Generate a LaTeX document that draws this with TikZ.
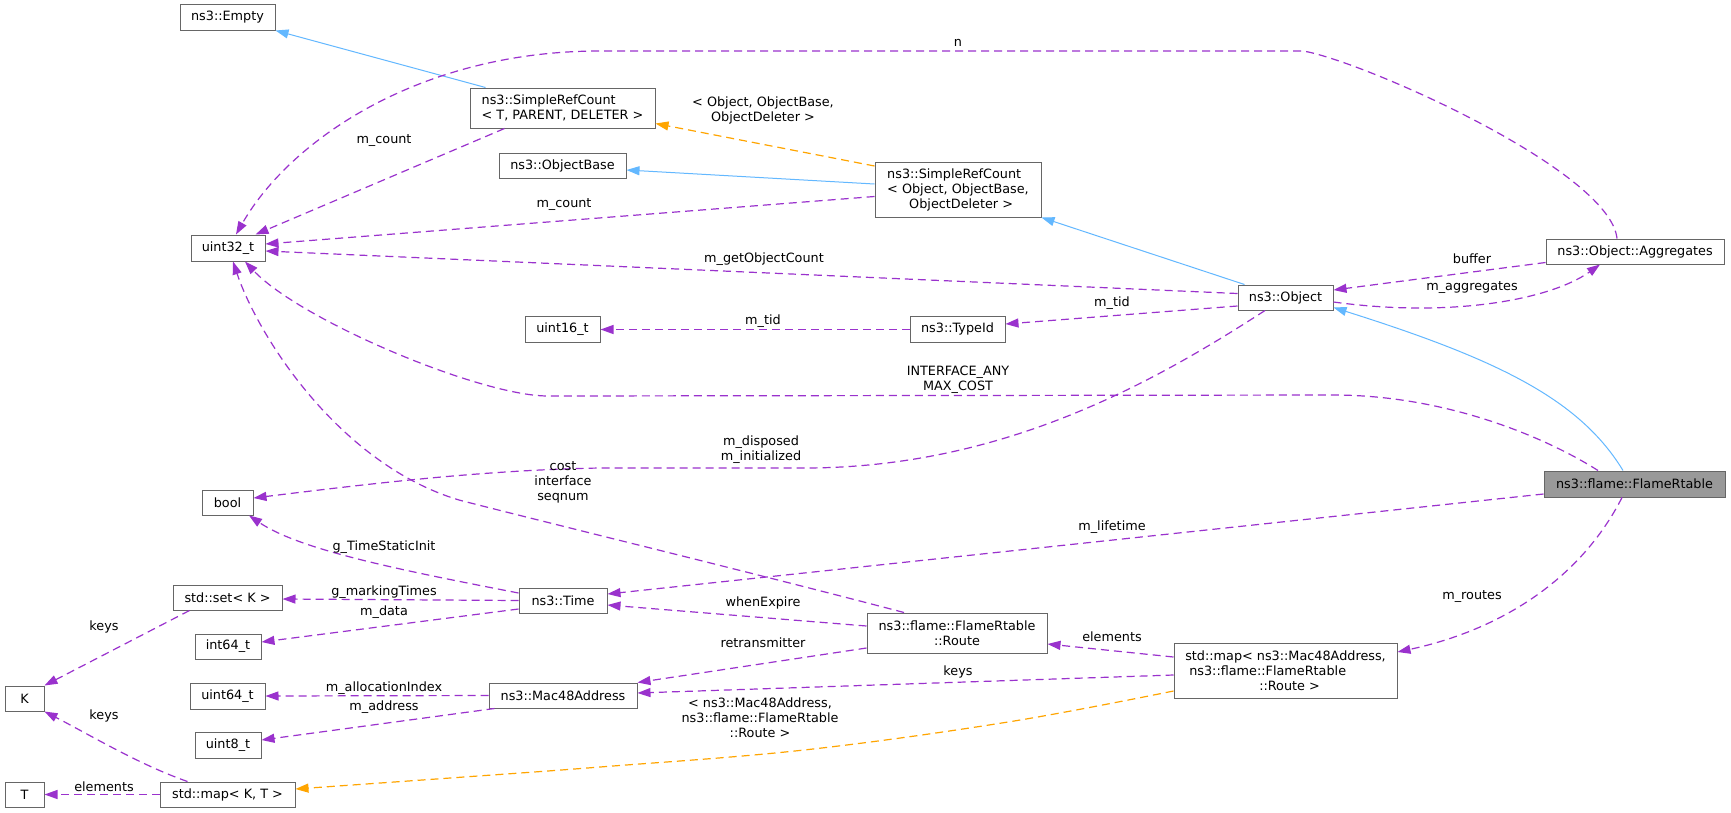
\documentclass[tikz,border=0pt]{standalone}
\usepackage{fontspec}
\setmainfont{DejaVu Sans}
\usetikzlibrary{arrows.meta}
\definecolor{purp}{HTML}{9A32CD}
\definecolor{sblue}{HTML}{63B8FF}
\definecolor{orng}{HTML}{FFA500}
\definecolor{boxgray}{HTML}{666666}
\definecolor{flamefill}{HTML}{999999}
\begin{document}
\begin{tikzpicture}[x=1pt,y=-1pt,
  every node/.style={font=\fontsize{12.8}{15}\selectfont},
  box/.style={draw=boxgray, fill=white, line width=1pt, inner sep=0pt, align=center},
  lbl/.style={inner sep=0pt, align=center, text=black},
  usel/.style={draw=purp, line width=1.2pt, dash pattern=on 8pt off 5pt, -{Triangle[length=13pt,width=9pt]}},
  inh/.style={draw=sblue, line width=1pt, -{Triangle[length=13pt,width=9pt]}},
  tmpl/.style={draw=orng, line width=1.2pt, dash pattern=on 8pt off 5pt, -{Triangle[length=13pt,width=9pt]}}
]
\fill[white] (0,0) rectangle (1731,812);
\useasboundingbox (0,0) rectangle (1731,812);

% nodes
\node[box, minimum width=95pt, minimum height=26pt] (Empty) at (227.5,17) {ns3::Empty};
\node[box, minimum width=185pt, minimum height=40pt, align=left] (SRCT) at (562.5,108) {ns3::SimpleRefCount\\< T, PARENT, DELETER >};
\node[box, minimum width=127pt, minimum height=25pt] (OBase) at (562.5,165.5) {ns3::ObjectBase};
\node[box, minimum width=166pt, minimum height=55pt, align=left] (SRCO) at (958,189.5) {ns3::SimpleRefCount\\< Object, ObjectBase,\\\hspace*{22pt}ObjectDeleter >};
\node[box, minimum width=74pt, minimum height=26pt] (U32) at (228,248) {uint32\_t};
\node[box, minimum width=178pt, minimum height=25pt] (Aggr) at (1635,251.5) {ns3::Object::Aggregates};
\node[box, minimum width=95pt, minimum height=25pt] (Obj) at (1285.5,297.5) {ns3::Object};
\node[box, minimum width=75pt, minimum height=26pt] (U16) at (562.5,329) {uint16\_t};
\node[box, minimum width=95pt, minimum height=26pt] (TypeId) at (957.5,329) {ns3::TypeId};
\node[box, fill=flamefill, minimum width=181pt, minimum height=26pt] (Flame) at (1634.5,484) {ns3::flame::FlameRtable};
\node[box, minimum width=51pt, minimum height=25pt] (Bool) at (227.5,502.5) {bool};
\node[box, minimum width=109pt, minimum height=25pt] (Set) at (227.5,597.5) {std::set< K >};
\node[box, minimum width=88pt, minimum height=25pt] (Time) at (563,600.5) {ns3::Time};
\node[box, minimum width=66pt, minimum height=25pt] (I64) at (228,646.5) {int64\_t};
\node[box, minimum width=180pt, minimum height=40pt] (Route) at (957,633) {ns3::flame::FlameRtable\\::Route};
\node[box, minimum width=148pt, minimum height=25pt] (Mac) at (563,695.5) {ns3::Mac48Address};
\node[box, minimum width=75pt, minimum height=26pt] (U64) at (227.5,696) {uint64\_t};
\node[box, minimum width=223pt, minimum height=55pt, align=left] (MapR) at (1285.5,670.5) {std::map< ns3::Mac48Address,\\\hspace*{4pt}ns3::flame::FlameRtable\\\hspace*{74pt}::Route >};
\node[box, minimum width=39pt, minimum height=25pt] (K) at (24.5,698.5) {K};
\node[box, minimum width=66pt, minimum height=26pt] (U8) at (228,745) {uint8\_t};
\node[box, minimum width=39pt, minimum height=25pt] (T) at (24.5,794.5) {T};
\node[box, minimum width=135pt, minimum height=25pt] (MapKT) at (227.5,794.5) {std::map< K, T >};

% helper coordinates
\coordinate (orS) at ([yshift=-20.5pt]MapR.west);
\coordinate (orE) at ([yshift=5.5pt]MapKT.east);

% inheritance (blue)
\draw[inh] ([xshift=16pt]SRCT.north west) -- (Empty.south east);
\draw[inh] ([yshift=5.5pt]SRCO.west) -- ([yshift=-4.5pt]OBase.east);
\draw[inh] ([xshift=7pt]Obj.north west) -- (SRCO.south east);
\draw[inh] ([xshift=-11.5pt]Flame.north) .. controls (1580,400) and (1500,360) .. ([yshift=3pt]Obj.south east);

% template (orange)
\draw[tmpl] ([yshift=23.5pt]SRCO.west) -- ([yshift=5pt]SRCT.south east);
\draw[tmpl] plot[smooth, tension=0.6] coordinates {(orS) (1008,722) (804,750) (600,767) (450,778) (orE)};

% usage (purple)
\draw[usel] ([xshift=-18pt]Aggr.north) .. controls (1610,170) and (1360,60) .. (1303,51) -- (600,51) .. controls (420,51) and (290,140) .. ([xshift=8pt]U32.north);
\draw[usel] ([xshift=35pt]SRCT.south west) -- ([xshift=-10pt]U32.north east);
\draw[usel] ([yshift=-7pt]SRCO.west) -- ([yshift=4pt]U32.east);
\draw[usel] ([yshift=4pt]Obj.west) -- ([yshift=-3pt]U32.east);
\draw[usel] ([yshift=-11pt]Aggr.west) -- ([yshift=7.5pt]Obj.east);
\draw[usel] ([yshift=-4.5pt]Obj.east) .. controls (1450,318) and (1550,300) .. ([xshift=-35pt]Aggr.south);
\draw[usel] ([yshift=-8.5pt]Obj.west) -- ([yshift=5pt]TypeId.east);
\draw[usel] ([yshift=-0.5pt]TypeId.west) -- ([yshift=-0.5pt]U16.east);
\draw[usel] ([xshift=-36.5pt]Flame.north) .. controls (1550,440) and (1450,395) .. (1333,395) -- (548,396) .. controls (480,396) and (300,320) .. ([xshift=17pt]U32.south);
\draw[usel] ([xshift=-20.5pt]Obj.south) .. controls (1150,385) and (1000,468) .. (804,468) -- (600,468) .. controls (480,470) and (360,485) .. ([yshift=4.5pt]Bool.east);
\draw[usel] ([xshift=-53pt]Route.north) .. controls (750,572) and (560,526) .. (459,500) .. controls (339,464) and (258,336) .. ([xshift=5pt]U32.south);
\draw[usel] ([yshift=-10pt]Flame.west) -- ([yshift=6.5pt]Time.east);
\draw[usel] ([yshift=7pt]Route.west) -- ([yshift=-4.5pt]Time.east);
\draw[usel] ([yshift=-15pt]Route.west) -- (Mac.north east);
\draw[usel] ([yshift=13.5pt]MapR.west) -- ([yshift=-11pt]Route.east);
\draw[usel] ([yshift=-4.5pt]MapR.west) -- ([yshift=2.5pt]Mac.east);
\draw[usel] ([xshift=-12.5pt]Flame.south) .. controls (1580,580) and (1500,630) .. ([yshift=18.5pt]MapR.east);
\draw[usel] ([yshift=7.5pt]Time.west) .. controls (400,570) and (300,550) .. ([xshift=21.5pt]Bool.south);
\draw[usel] (Time.west) -- ([yshift=-1.5pt]Set.east);
\draw[usel] ([yshift=-8.5pt]Time.west) -- ([yshift=4.5pt]I64.east);
\draw[usel] (Mac.west) -- (U64.east);
\draw[usel] ([xshift=6pt]Mac.south west) -- ([yshift=5pt]U8.east);
\draw[usel] ([xshift=17pt]Set.south west) -- (K.north east);
\draw[usel] ([xshift=28pt]MapKT.north west) .. controls (140,765) and (90,735) .. (K.south east);
\draw[usel] (MapKT.west) -- (T.east);

% labels
\node[lbl] (l1) at (958,43) {n};
\node[lbl] (l2) at (763,110.5) {< Object, ObjectBase,\\ObjectDeleter >};
\node[lbl] (l3) at (384,141) {m\_count};
\node[lbl] (l4) at (564,205) {m\_count};
\node[lbl] (l5) at (764,259) {m\_getObjectCount};
\node[lbl] (l6) at (1472,259) {buffer};
\node[lbl] (l7) at (1472,288) {m\_aggregates};
\node[lbl] (l8) at (1112,303) {m\_tid};
\node[lbl] (l9) at (763,321) {m\_tid};
\node[lbl] (l10) at (958,380) {INTERFACE\_ANY\\MAX\_COST};
\node[lbl] (l11) at (761,449.5) {m\_disposed\\m\_initialized};
\node[lbl] (l12) at (563,482) {cost\\interface\\seqnum};
\node[lbl] (l13) at (1112,527) {m\_lifetime};
\node[lbl] (l14) at (384,547) {g\_TimeStaticInit};
\node[lbl] (l15) at (384,592) {g\_markingTimes};
\node[lbl] (l16) at (1472,597) {m\_routes};
\node[lbl] (l17) at (763,603) {whenExpire};
\node[lbl] (l18) at (384,612) {m\_data};
\node[lbl] (l19) at (104,627) {keys};
\node[lbl] (l20) at (1112,637) {elements};
\node[lbl] (l21) at (763,643) {retransmitter};
\node[lbl] (l22) at (958,672) {keys};
\node[lbl] (l23) at (384,688) {m\_allocationIndex};
\node[lbl] (l24) at (384,707) {m\_address};
\node[lbl] (l25) at (104,716) {keys};
\node[lbl] (l26) at (760,718) {< ns3::Mac48Address,\\ns3::flame::FlameRtable\\::Route >};
\node[lbl] (l27) at (104,787) {elements};
\end{tikzpicture}
\end{document}
